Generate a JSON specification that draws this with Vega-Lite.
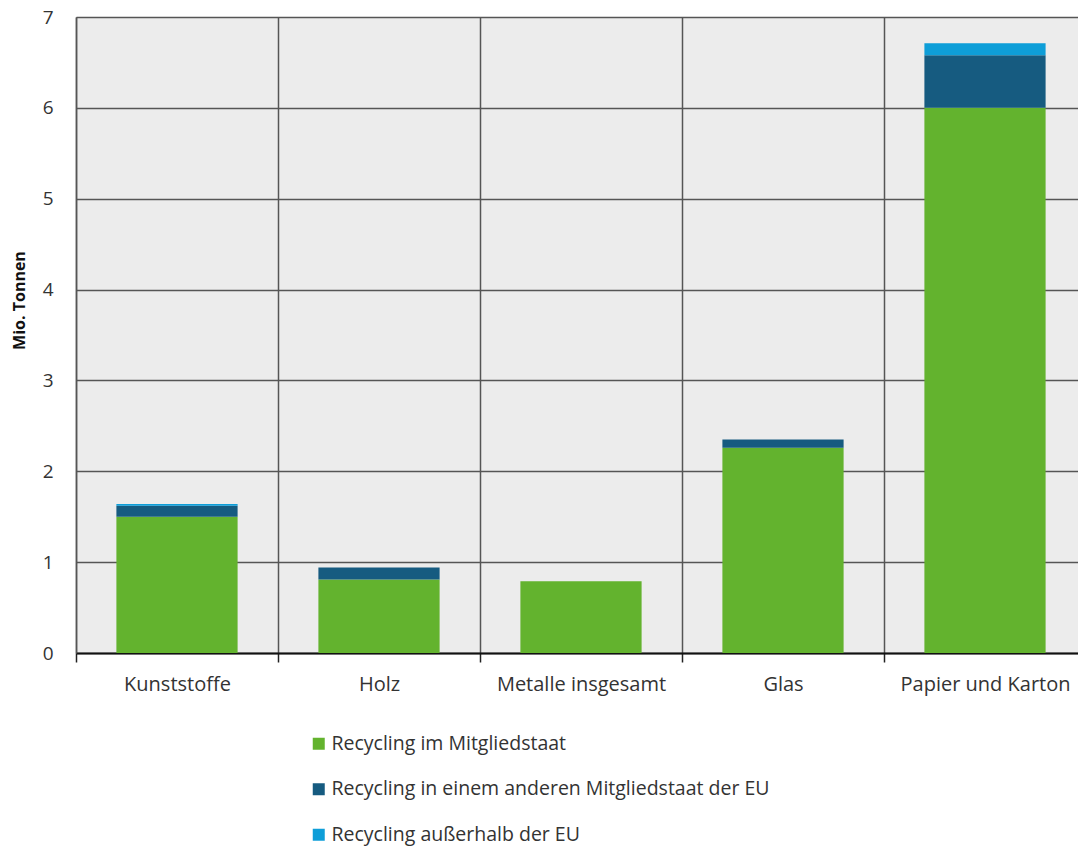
{
  "$schema": "https://vega.github.io/schema/vega-lite/v6.json",
  "autosize": "none",
  "width": 1010,
  "height": 636,
  "padding": {"left": 76, "top": 17, "right": 0, "bottom": 197},
  "background": "white",
  "config": {
    "font": "Open Sans",
    "view": {"fill": "#ececec", "stroke": null}
  },
  "data": {
    "values": [
      {"Kategorie": "Kunststoffe", "Art": "Recycling im Mitgliedstaat", "Rang": 1, "Wert": 1.5},
      {"Kategorie": "Kunststoffe", "Art": "Recycling in einem anderen Mitgliedstaat der EU", "Rang": 2, "Wert": 0.12},
      {"Kategorie": "Kunststoffe", "Art": "Recycling außerhalb der EU", "Rang": 3, "Wert": 0.02},
      {"Kategorie": "Holz", "Art": "Recycling im Mitgliedstaat", "Rang": 1, "Wert": 0.81},
      {"Kategorie": "Holz", "Art": "Recycling in einem anderen Mitgliedstaat der EU", "Rang": 2, "Wert": 0.13},
      {"Kategorie": "Holz", "Art": "Recycling außerhalb der EU", "Rang": 3, "Wert": 0.0},
      {"Kategorie": "Metalle insgesamt", "Art": "Recycling im Mitgliedstaat", "Rang": 1, "Wert": 0.79},
      {"Kategorie": "Metalle insgesamt", "Art": "Recycling in einem anderen Mitgliedstaat der EU", "Rang": 2, "Wert": 0.0},
      {"Kategorie": "Metalle insgesamt", "Art": "Recycling außerhalb der EU", "Rang": 3, "Wert": 0.0},
      {"Kategorie": "Glas", "Art": "Recycling im Mitgliedstaat", "Rang": 1, "Wert": 2.26},
      {"Kategorie": "Glas", "Art": "Recycling in einem anderen Mitgliedstaat der EU", "Rang": 2, "Wert": 0.09},
      {"Kategorie": "Glas", "Art": "Recycling außerhalb der EU", "Rang": 3, "Wert": 0.0},
      {"Kategorie": "Papier und Karton", "Art": "Recycling im Mitgliedstaat", "Rang": 1, "Wert": 6.0},
      {"Kategorie": "Papier und Karton", "Art": "Recycling in einem anderen Mitgliedstaat der EU", "Rang": 2, "Wert": 0.58},
      {"Kategorie": "Papier und Karton", "Art": "Recycling außerhalb der EU", "Rang": 3, "Wert": 0.13}
    ]
  },
  "mark": {"type": "bar", "width": {"band": 0.6}},
  "encoding": {
    "x": {
      "field": "Kategorie",
      "type": "nominal",
      "sort": ["Kunststoffe", "Holz", "Metalle insgesamt", "Glas", "Papier und Karton"],
      "scale": {"paddingInner": 0, "paddingOuter": 0},
      "axis": {
        "title": null,
        "labelAngle": 0,
        "labelFontSize": 20,
        "labelColor": "#333333",
        "labelPadding": 12,
        "tickBand": "extent",
        "tickSize": 9,
        "tickColor": "#222222",
        "tickWidth": 1.5,
        "domainColor": "#111111",
        "domainWidth": 2,
        "grid": true,
        "gridColor": "#555555",
        "gridWidth": 1.5
      }
    },
    "y": {
      "field": "Wert",
      "type": "quantitative",
      "stack": "zero",
      "scale": {"domain": [0, 7], "nice": false},
      "axis": {
        "title": "Mio. Tonnen",
        "titleFontSize": 16,
        "titleFontWeight": "bold",
        "titleColor": "#111111",
        "titleX": -49,
        "titleY": 283,
        "titleBaseline": "bottom",
        "values": [0, 1, 2, 3, 4, 5, 6, 7],
        "labelFontSize": 19,
        "labelColor": "#333333",
        "labelPadding": 23,
        "tickSize": 0,
        "domainColor": "#555555",
        "domainWidth": 1.5,
        "gridColor": "#555555",
        "gridWidth": 1.5
      }
    },
    "color": {
      "field": "Art",
      "type": "nominal",
      "scale": {
        "domain": ["Recycling im Mitgliedstaat", "Recycling in einem anderen Mitgliedstaat der EU", "Recycling außerhalb der EU"],
        "range": ["#63b32e", "#165b80", "#0e9ed8"]
      },
      "legend": {
        "title": null,
        "orient": "none",
        "legendX": 233,
        "legendY": 717,
        "direction": "vertical",
        "symbolType": "square",
        "symbolSize": 144,
        "symbolStrokeWidth": 0,
        "labelFontSize": 19.5,
        "labelColor": "#333333",
        "labelOffset": 3,
        "rowPadding": 24.5,
        "labelLimit": 600
      }
    },
    "order": {"field": "Rang", "type": "quantitative"}
  }
}
